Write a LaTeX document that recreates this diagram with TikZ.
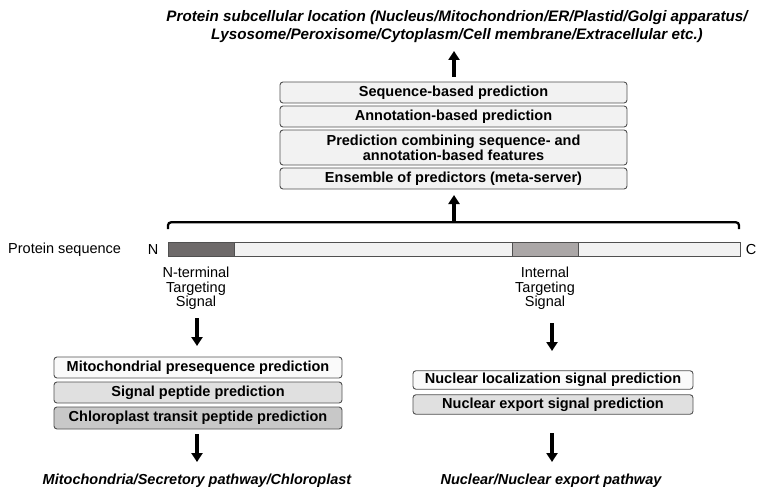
\documentclass[tikz,border=0pt]{standalone}
\usepackage{fontspec}
\setmainfont{Liberation Sans}
\usetikzlibrary{arrows.meta}
\definecolor{boxline}{HTML}{505050}
\definecolor{fillA}{HTML}{F2F2F2}
\definecolor{fillW}{HTML}{FAFAFA}
\definecolor{fillB}{HTML}{E0E0E0}
\definecolor{fillC}{HTML}{C8C8C8}
\definecolor{segDark}{HTML}{6E6A6A}
\definecolor{segLight}{HTML}{ABA7A7}
\tikzset{
  predbox/.style={draw=boxline, line width=0.9pt, rounded corners=3pt, inner sep=0pt,
    align=center, font=\bfseries\fontsize{14.5}{15}\selectfont},
  bigarrow/.style={line width=3.6pt, -{Triangle[width=11pt,length=9pt]}},
  plain/.style={font=\fontsize{14.5}{15}\selectfont, inner sep=0pt},
  target/.style={font=\fontsize{14.5}{14.5}\selectfont, align=center, inner sep=0pt},
  result/.style={font=\bfseries\itshape\fontsize{14.5}{17}\selectfont, align=center, inner sep=0pt},
  seg/.style={draw=boxline, line width=0.6pt, inner sep=0pt, minimum height=13.5pt}
}
\begin{document}
\begin{tikzpicture}[x=1pt,y=-1pt]
\useasboundingbox (0,0) rectangle (767,500);
% title
\node[result, font=\bfseries\itshape\fontsize{15.2}{17.5}\selectfont] (title) at (457,26.5) {Protein subcellular location (Nucleus/Mitochondrion/ER/Plastid/Golgi apparatus/\\Lysosome/Peroxisome/Cytoplasm/Cell membrane/Extracellular etc.)};
% top boxes
\node[predbox, fill=fillA, minimum width=347pt, minimum height=21pt] (b1) at (453.5,92.5) {Sequence-based prediction};
\node[predbox, fill=fillA, minimum width=347pt, minimum height=21pt] (b2) at (453.5,116.5) {Annotation-based prediction};
\node[predbox, fill=fillA, minimum width=347pt, minimum height=35pt] (b3) at (453.5,147.5) {Prediction combining sequence- and\\annotation-based features};
\node[predbox, fill=fillA, minimum width=347pt, minimum height=21pt] (b4) at (453.5,178.5) {Ensemble of predictors (meta-server)};
\coordinate (upA) at (454,77);
\coordinate (upAend) at (454,51);
\draw[bigarrow] (upA) -- (upAend);
% bracket
\coordinate (brL) at (168,229);
\coordinate (brR) at (739,229);
\coordinate (brM) at (454,222);
\draw[line width=2.3pt, rounded corners=3pt] (brL) -- (168,222.3) -- (739,222.3) -- (brR);
\coordinate (upBend) at (454,195);
\draw[bigarrow] (brM) -- (upBend);
% sequence
\node[plain, anchor=west] (pslabel) at (8,249.5) {Protein sequence};
\node[plain] (nlab) at (153,250) {N};
\node[plain] (clab) at (751,249.5) {C};
\node[seg, fill=fillA, minimum width=572pt] (seq) at (454,249.3) {};
\node[seg, fill=segDark, minimum width=66pt] (nseg) at (201,249.3) {};
\node[seg, fill=segLight, minimum width=66.5pt] (iseg) at (545.3,249.3) {};
% targeting labels
\node[target] (nts) at (196,288.5) {N-terminal\\Targeting\\Signal};
\node[target] (its) at (545,288.5) {Internal\\Targeting\\Signal};
% left boxes
\node[predbox, fill=fillW, minimum width=288pt, minimum height=21pt] (l1) at (198,367.5) {Mitochondrial presequence prediction};
\node[predbox, fill=fillB, minimum width=288pt, minimum height=21pt] (l2) at (198,392.5) {Signal peptide prediction};
\node[predbox, fill=fillC, minimum width=288pt, minimum height=22pt] (l3) at (198,418) {Chloroplast transit peptide prediction};
\node[result] (lres) at (197,481) {Mitochondria/Secretory pathway/Chloroplast};
\draw[bigarrow] (197,318) -- (197,346);
\draw[bigarrow] (197,434) -- (197,462);
% right boxes
\node[predbox, fill=fillW, minimum width=280pt, minimum height=18.5pt] (r1) at (553,380) {Nuclear localization signal prediction};
\node[predbox, fill=fillB, minimum width=280pt, minimum height=19.5pt] (r2) at (553,404.5) {Nuclear export signal prediction};
\node[result] (rres) at (551,480.5) {Nuclear/Nuclear export pathway};
\draw[bigarrow] (552,323) -- (552,351);
\draw[bigarrow] (552,433) -- (552,462);
\end{tikzpicture}
\end{document}
